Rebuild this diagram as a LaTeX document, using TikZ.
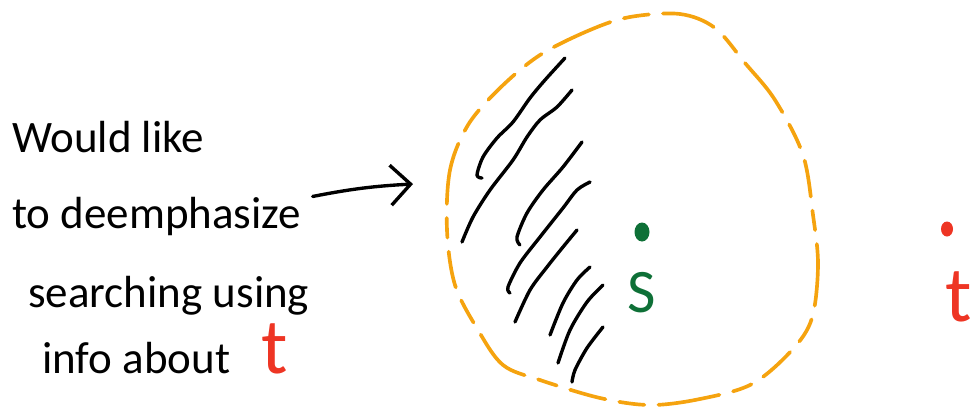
\documentclass[tikz,border=0pt]{standalone}
\usepackage{fontspec}
\setmainfont{Carlito}
\usepackage{xcolor}
\usepackage{tikz}
\usetikzlibrary{arrows.meta, positioning}
\definecolor{SK_INK}{HTML}{000000}
\definecolor{SK_ORANGE}{HTML}{F5A30F}
\definecolor{SK_GREEN}{HTML}{0E7037}
\definecolor{SK_RED}{HTML}{EE3524}
\tikzset{
  note/.style={
    anchor=base west, inner sep=0pt,
    text=SK_INK, font=\fontsize{32}{38}\selectfont},
  tsym/.style={
    inner sep=0pt, text=SK_RED,
    font=\fontsize{56}{60}\selectfont},
  ssym/.style={
    inner sep=0pt, text=SK_GREEN,
    font=\fontsize{44}{50}\selectfont},
  hatch/.style={
    draw=SK_INK, line width=2.4pt,
    line cap=round, line join=round},
  blob/.style={
    draw=SK_ORANGE, line width=2.6pt, line cap=round,
    dash pattern=on 26pt off 10pt on 14pt off 10pt on 44pt off 10pt on 18pt off 10pt},
  arr/.style={-{Straight Barb[length=5mm,width=10mm]}, line width=2.4pt,
    line cap=round, line join=round, color=SK_INK},
}
\begin{document}
\begin{tikzpicture}[x=0.025cm, y=-0.025cm]
  \useasboundingbox (0,0) rectangle (974,409);

  % left side notes
  \node[note] (would)  at (12,152) {Would like};
  \node[note] (deemph) at (12,228) {to deemphasize};
  \node[note] (search) at (28,307) {searching using};
  \node[note] (info)   at (42,373) {info about};
  \node[tsym, anchor=base west] (tnote) at ([xshift=22pt]info.base east) {t};

  % region around s
  \draw[blob] plot[smooth cycle, tension=0.55] coordinates {
    (630,17) (680,14) (715,28) (745,63) (775,100) (803,155)
    (813,215) (818,265) (812,318) (792,350) (752,384) (700,399)
    (650,405) (600,398) (540,380) (503,365) (478,330) (455,285)
    (447,230) (450,170) (468,125) (500,88) (540,55) (590,30)};

  % shaded part
  \draw[hatch] plot[smooth] coordinates {(565,58) (545,80) (530,98) (513,122) (497,138) (483,157) (477,175) (482,178)};
  \draw[hatch] plot[smooth] coordinates {(572,90) (557,107) (540,120) (527,137) (513,160) (490,190) (473,217) (462,242)};
  \draw[hatch] plot[smooth] coordinates {(582,142) (563,167) (543,190) (527,213) (517,237) (520,245)};
  \draw[hatch] plot[smooth] coordinates {(590,182) (577,190) (563,208) (540,237) (520,263) (508,287) (510,293)};
  \draw[hatch] plot[smooth] coordinates {(577,230) (563,247) (547,267) (530,290) (515,322)};
  \draw[hatch] plot[smooth] coordinates {(590,267) (577,280) (563,303) (550,335)};
  \draw[hatch] plot[smooth] coordinates {(603,285) (587,302) (570,330) (558,363)};
  \draw[hatch] plot[smooth] coordinates {(603,327) (587,348) (575,370) (572,382)};

  % s and t
  \coordinate (sdot) at (642,232);
  \fill[SK_GREEN] (sdot) ellipse [x radius=7.5, y radius=9.5];
  \node[ssym, below=1.0cm of sdot] (slabel) {S};
  \coordinate (tdot) at (947,229);
  \fill[SK_RED] (tdot) ellipse [x radius=6, y radius=7.5];
  \node[tsym, below=1.05cm of tdot, xshift=8pt] (tlabel) {t};

  \coordinate (aim) at (413,184);
  \draw[arr] ([xshift=8pt]deemph.north east) to[bend left=4] (aim);

\end{tikzpicture}
\end{document}
